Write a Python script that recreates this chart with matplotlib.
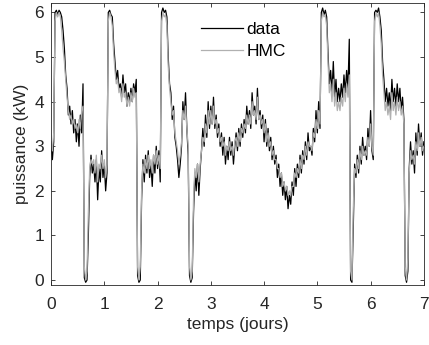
import numpy as np
import matplotlib
matplotlib.use("Agg")
import matplotlib.pyplot as plt

plt.rcParams['font.family'] = ['Liberation Sans', 'DejaVu Sans']

# time axis (days), 0.025-day step
t_start, t_end, n_pts = 0.0, 7.0, 281

data = [
    3.0, 2.7, 3.1, 6.0, 6.05, 5.95, 6.05, 6.0, 5.9, 5.6,
    5.2, 4.6, 4.3, 3.7, 3.9, 3.5, 3.8, 3.3, 3.6, 3.1,
    3.5, 3.0, 3.7, 3.3, 4.4, 0.05, -0.05, 0.0, 1.0, 2.3,
    2.8, 2.4, 2.6, 2.2, 2.7, 1.8, 2.5, 2.2, 2.9, 2.3,
    2.6, 2.0, 2.4, 6.0, 6.05, 5.95, 5.9, 5.3, 4.9, 4.5,
    4.7, 4.3, 4.4, 4.1, 4.6, 4.2, 4.4, 3.9, 4.2, 4.0,
    4.3, 4.0, 4.4, 4.2, 4.5, 0.1, -0.05, 0.0, 1.8, 2.7,
    2.2, 2.8, 2.4, 2.9, 2.3, 2.6, 2.1, 2.8, 2.4, 3.0,
    2.5, 2.9, 2.2, 6.0, 6.1, 6.0, 6.05, 5.9, 5.0, 4.4,
    4.2, 3.6, 3.9, 3.2, 3.0, 2.7, 2.3, 2.6, 3.0, 4.0,
    3.6, 4.2, 3.4, 2.8, 0.1, -0.05, 0.05, 1.5, 2.4, 2.0,
    2.6, 1.9, 2.5, 2.9, 3.4, 3.0, 3.7, 3.2, 4.0, 3.4,
    3.9, 3.5, 4.1, 3.4, 3.7, 3.2, 3.5, 3.0, 3.3, 2.8,
    3.2, 2.6, 3.0, 2.7, 3.2, 2.8, 3.1, 2.6, 3.0, 3.3,
    2.9, 3.4, 3.0, 3.5, 3.2, 3.6, 3.3, 3.9, 3.5, 3.8,
    3.4, 4.2, 3.7, 3.9, 3.5, 4.3, 3.6, 3.8, 3.4, 3.7,
    3.1, 3.6, 3.0, 3.4, 2.9, 3.2, 2.7, 3.0, 2.6, 2.8,
    2.3, 2.6, 2.1, 2.4, 1.9, 2.2, 1.8, 2.1, 1.6, 1.9,
    1.7, 2.2, 1.9, 2.5, 2.1, 2.6, 2.3, 2.8, 2.4, 2.9,
    2.6, 3.1, 2.7, 3.3, 2.9, 3.0, 2.8, 3.4, 3.1, 3.8,
    3.3, 4.0, 3.4, 6.0, 6.1, 5.95, 6.05, 5.9, 5.1, 4.4,
    4.7, 4.2, 4.9, 4.1, 4.5, 4.0, 4.3, 4.0, 4.4, 4.1,
    4.6, 4.2, 4.7, 4.3, 5.4, 0.0, -0.05, 1.2, 2.6, 2.3,
    2.8, 2.4, 3.0, 2.6, 3.2, 2.8, 3.0, 2.7, 3.4, 3.0,
    3.8, 2.9, 2.7, 6.0, 6.05, 6.0, 6.1, 5.9, 5.6, 4.9,
    4.5, 4.0, 4.3, 3.9, 4.2, 3.8, 4.5, 4.0, 4.3, 3.9,
    4.4, 4.0, 4.3, 3.8, 4.1, 3.6, 0.1, -0.05, 0.2, 2.5,
    3.1, 2.6, 2.9, 2.4, 3.3, 2.8, 3.5, 3.0, 3.3, 2.8,
    3.1,
]

hmc = [
    3.1, 2.9, 3.3, 5.8, 6.0, 5.9, 6.0, 5.9, 5.6, 5.2,
    4.9, 4.5, 4.1, 3.8, 3.6, 3.7, 3.5, 3.6, 3.4, 3.5,
    3.3, 3.6, 3.4, 3.8, 3.9, 0.3, 0.0, 0.2, 1.5, 2.5,
    2.7, 2.6, 2.7, 2.4, 2.8, 2.2, 2.6, 2.5, 2.8, 2.5,
    2.7, 2.3, 2.6, 5.8, 6.0, 5.9, 5.7, 5.1, 4.7, 4.4,
    4.5, 4.2, 4.3, 4.0, 4.4, 4.1, 4.2, 3.9, 4.1, 3.9,
    4.2, 4.0, 4.3, 4.1, 4.2, 0.3, 0.0, 0.3, 2.0, 2.6,
    2.4, 2.7, 2.5, 2.8, 2.5, 2.7, 2.4, 2.8, 2.6, 2.9,
    2.6, 2.8, 2.5, 5.8, 6.0, 5.9, 5.95, 5.7, 4.8, 4.3,
    4.0, 3.7, 3.8, 3.3, 3.1, 2.9, 2.6, 2.8, 3.1, 3.8,
    3.6, 3.9, 3.4, 3.0, 0.3, 0.0, 0.2, 1.8, 2.5, 2.3,
    2.6, 2.2, 2.6, 2.9, 3.2, 3.1, 3.5, 3.3, 3.8, 3.5,
    3.8, 3.5, 3.9, 3.5, 3.6, 3.3, 3.4, 3.1, 3.2, 3.0,
    3.1, 2.8, 3.0, 2.9, 3.1, 2.9, 3.0, 2.8, 3.1, 3.2,
    3.0, 3.3, 3.1, 3.4, 3.3, 3.5, 3.4, 3.7, 3.5, 3.7,
    3.5, 4.0, 3.7, 3.8, 3.6, 4.1, 3.6, 3.7, 3.5, 3.6,
    3.3, 3.5, 3.1, 3.3, 3.0, 3.1, 2.8, 2.9, 2.7, 2.7,
    2.5, 2.5, 2.3, 2.4, 2.1, 2.2, 2.0, 2.1, 1.9, 2.0,
    1.9, 2.1, 2.1, 2.4, 2.3, 2.5, 2.4, 2.7, 2.5, 2.8,
    2.7, 3.0, 2.8, 3.1, 3.0, 3.0, 2.9, 3.3, 3.2, 3.6,
    3.4, 3.8, 3.5, 5.8, 6.0, 5.9, 5.95, 5.7, 4.9, 4.2,
    4.4, 4.0, 4.5, 3.9, 4.2, 3.8, 4.0, 3.8, 4.1, 3.9,
    4.3, 4.0, 4.4, 4.1, 4.6, 0.2, 0.0, 1.6, 2.5, 2.4,
    2.7, 2.5, 2.9, 2.7, 3.0, 2.8, 2.9, 2.8, 3.2, 3.0,
    3.5, 3.0, 2.8, 5.8, 6.0, 5.9, 6.0, 5.7, 5.3, 4.6,
    4.2, 3.8, 4.0, 3.7, 3.9, 3.6, 4.2, 3.8, 4.0, 3.7,
    4.1, 3.8, 4.0, 3.7, 3.9, 3.5, 0.3, 0.0, 0.5, 2.4,
    2.9, 2.7, 2.8, 2.6, 3.1, 2.9, 3.3, 3.0, 3.2, 2.9,
    3.0,
]

x_ticks = [0, 1, 2, 3, 4, 5, 6, 7]
y_ticks = [0, 1, 2, 3, 4, 5, 6]

t = np.linspace(t_start, t_end, n_pts)

fig = plt.figure(figsize=(4.29, 3.45), dpi=100)
ax = fig.add_axes([0.119, 0.174, 0.869, 0.817])

ax.plot(t, data, color='black', lw=0.9, label='data')
ax.plot(t, hmc, color='#b0b0b0', lw=0.9, label='HMC')

ax.set_xlim(0, 7)
ax.set_ylim(-0.11, 6.21)
ax.set_xticks(x_ticks)
ax.set_yticks(y_ticks)
ax.tick_params(direction='in', top=True, right=True, labelsize=12.5,
               length=3, width=0.6, colors='#262626')
ax.tick_params(axis='x', pad=9)
ax.tick_params(axis='y', pad=5)
for s in ax.spines.values():
    s.set_linewidth(0.6)
    s.set_color('#262626')

ax.set_xlabel('temps (jours)', fontsize=12.5, color='#262626', labelpad=3)
ax.set_ylabel('puissance (kW)', fontsize=12.5, color='#262626', labelpad=4)

leg = ax.legend(loc='upper left', bbox_to_anchor=(0.37, 0.975), frameon=False,
                fontsize=12.5, handlelength=2.4, handletextpad=0.2,
                labelspacing=0.35, borderaxespad=0.3)

fig.savefig('out.png', dpi=100)
